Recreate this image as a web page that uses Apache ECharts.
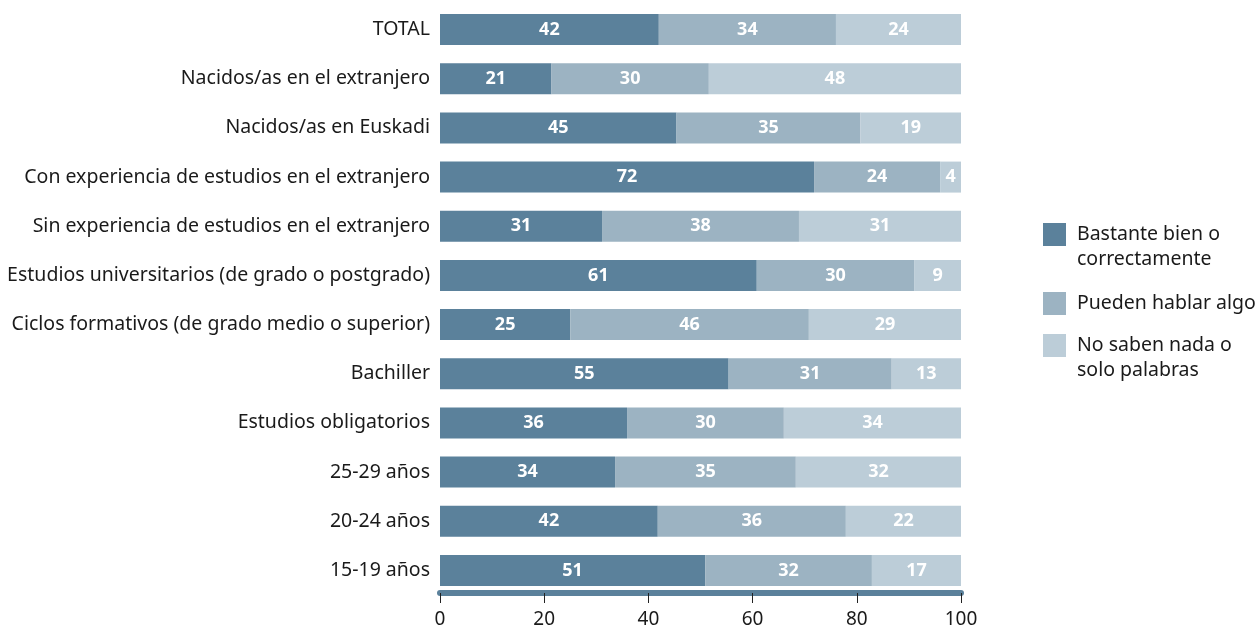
<!DOCTYPE html>
<html><head><meta charset="utf-8">
<script src="https://cdn.jsdelivr.net/npm/echarts@6/dist/echarts.min.js"></script>
<style>html,body{margin:0;padding:0;background:#fff}#c{width:1257px;height:629px}</style>
</head><body><div id="c"></div>
<script>
var categories = ["TOTAL","Nacidos/as en el extranjero","Nacidos/as en Euskadi","Con experiencia de estudios en el extranjero","Sin experiencia de estudios en el extranjero","Estudios universitarios (de grado o postgrado)","Ciclos formativos (de grado medio o superior)","Bachiller","Estudios obligatorios","25-29 años","20-24 años","15-19 años"];
var seriesNames = ["Bastante bien o correctamente","Pueden hablar algo","No saben nada o solo palabras"];
var legendLabels = ["Bastante bien o\ncorrectamente","Pueden hablar algo","No saben nada o\nsolo palabras"];
var bastante = [42.0,21.4,45.4,71.8,31.1,60.8,25.0,55.4,35.9,33.6,41.8,50.9];
var algo     = [34.0,30.2,35.3,24.2,37.8,30.2,45.8,31.3,30.1,34.7,36.1,32.0];
var nada     = [24.0,48.4,19.3,4.0,31.1,9.0,29.2,13.3,34.0,31.7,22.1,17.1];
var xTicks = [0,20,40,60,80,100];
var colors = ["#5b819b","#9cb3c2","#bccdd8"];
var FONT = "Noto Sans";

function mk(i, data){
  return {name: seriesNames[i], type:'bar', stack:'s', data:data, barWidth:31,
    itemStyle:{color:colors[i]},
    label:{show:true, position:'inside', color:'#fff', fontWeight:'bold', fontSize:18, fontFamily:FONT,
      formatter:function(p){return Math.round(p.value);}}};
}
function lg(i, top){
  var twoLine = legendLabels[i].indexOf('\n')>=0;
  return {orient:'vertical', left:1043, top:top, itemWidth:23, itemHeight:23, icon:'rect',
    data:[seriesNames[i]], selectedMode:false, padding:0,
    formatter: function(){ return twoLine ? '\u00a0\n'+legendLabels[i] : legendLabels[i]; },
    textStyle:{fontFamily:FONT, fontSize:19.5, color:'#1a1a1a', lineHeight:25, padding:[0,0,0,6]}};
}
var chart = echarts.init(document.getElementById('c'));
chart.setOption({
  animation:false,
  color:colors,
  grid:{left:440, right:296, top:5, bottom:33.5},
  xAxis:{type:'value', min:0, max:100, interval:20, offset:-2,
    axisLine:{show:true, lineStyle:{color:'#5b819b', width:6}},
    axisTick:{show:true, length:10, lineStyle:{color:'#222', width:1}},
    splitLine:{show:false},
    axisLabel:{color:'#1a1a1a', fontSize:19, fontFamily:FONT, margin:17,
      formatter:function(v){return xTicks.indexOf(v)>=0?String(v):'';}}},
  yAxis:{type:'category', data:categories, inverse:true,
    axisLine:{show:false}, axisTick:{show:false},
    axisLabel:{color:'#1a1a1a', fontSize:19.5, fontFamily:FONT, margin:10}},
  legend:[lg(0,197), lg(1,291), lg(2,308)],
  series:[mk(0,bastante), mk(1,algo), mk(2,nada)]
});
</script></body></html>
